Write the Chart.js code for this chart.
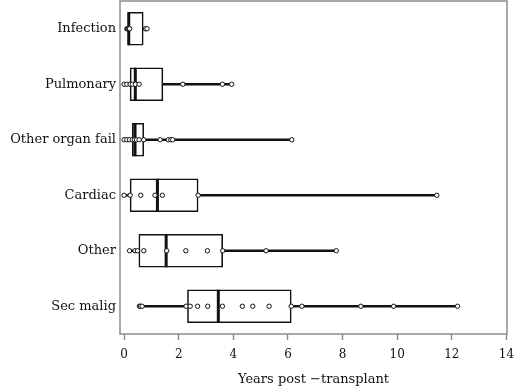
<!DOCTYPE html>
<html>
<head>
<meta charset="utf-8">
<script src="https://cdn.jsdelivr.net/npm/chart.js@4/dist/chart.umd.min.js"></script>
<style>
  html, body { margin: 0; padding: 0; background: #fff; }
  #wrap { width: 520px; height: 389px; }
</style>
</head>
<body>
<div id="wrap"><canvas id="myChart" width="520" height="389"></canvas></div>
<script>
// categories, top to bottom
const categories = ["Infection", "Pulmonary", "Other organ fail", "Cardiac", "Other", "Sec malig"];

// box summaries (years)
const q1 = [0.15, 0.22, 0.3, 0.22, 0.54, 2.32];
const medians = [0.17, 0.41, 0.4, 1.22, 1.54, 3.45];
const q3 = [0.7, 1.42, 0.72, 2.71, 3.61, 6.12];
const whiskerLow = [0.1, 0.0, 0.0, 0.0, 0.2, 0.56];
const whiskerHigh = [0.84, 3.94, 6.14, 11.45, 7.77, 12.21];

// individual observations
const infectionPts = [0.1, 0.13, 0.15, 0.18, 0.2, 0.78, 0.84];
const pulmonaryPts = [0.0, 0.1, 0.22, 0.3, 0.41, 0.55, 2.15, 3.6, 3.94];
const organFailPts = [0.0, 0.1, 0.2, 0.3, 0.38, 0.45, 0.55, 0.72, 1.32, 1.62, 1.71, 1.78, 6.14];
const cardiacPts = [0.0, 0.22, 0.61, 1.13, 1.4, 2.71, 11.45];
const otherPts = [0.2, 0.4, 0.49, 0.72, 1.56, 2.26, 3.05, 3.61, 5.2, 7.77];
const secMaligPts = [0.56, 0.6, 0.66, 2.27, 2.42, 2.69, 3.06, 3.6, 4.33, 4.71, 5.31, 6.12, 6.51, 8.67, 9.87, 12.21];

const xTicks = [0, 2, 4, 6, 8, 10, 12, 14];
const xTitle = "Years post −transplant";

const pointGroups = [infectionPts, pulmonaryPts, organFailPts, cardiacPts, otherPts, secMaligPts];

// flatten points into {x, y} for scatter
let obsPoints = [];
for (let i = 0; i < pointGroups.length; i++) {
  pointGroups[i].forEach((v) => obsPoints.push({ x: v, y: categories[i] }));
}

const frameColor = "#8c8c8c";
const serif = "'DejaVu Serif', serif";

// draws the box frame round the plot area
const framePlugin = {
  id: "frame",
  afterDraw(chart) {
    const { ctx, chartArea } = chart;
    ctx.save();
    ctx.strokeStyle = frameColor;
    ctx.lineWidth = 1.5;
    ctx.strokeRect(chartArea.left, chartArea.top, chartArea.right - chartArea.left, chartArea.bottom - chartArea.top);
    ctx.restore();
  },
};

const ctx = document.getElementById("myChart");

new Chart(ctx, {
  type: "bar",
  data: {
    labels: categories,
    datasets: [
      {
        // whiskers
        type: "bar",
        data: categories.map((c, i) => [whiskerLow[i], whiskerHigh[i]]),
        backgroundColor: "#111",
        borderWidth: 0,
        barThickness: 2,
        grouped: false,
        order: 3,
      },
      {
        // boxes
        type: "bar",
        data: categories.map((c, i) => [q1[i], q3[i]]),
        backgroundColor: "#fff",
        borderColor: "#111",
        borderWidth: 1.6,
        borderSkipped: false,
        barThickness: 33,
        grouped: false,
        order: 2,
      },
      {
        // medians
        type: "scatter",
        data: categories.map((c, i) => ({ x: medians[i], y: c })),
        pointStyle: "line",
        rotation: 90,
        radius: 16.5,
        borderColor: "#111",
        borderWidth: 3,
        order: 1,
      },
      {
        // observations
        type: "scatter",
        data: obsPoints,
        pointStyle: "circle",
        radius: 2.2,
        backgroundColor: "#fff",
        borderColor: "#111",
        borderWidth: 1,
        order: 0,
      },
    ],
  },
  options: {
    indexAxis: "y",
    responsive: false,
    animation: false,
    layout: { autoPadding: false, padding: { left: 0, right: 13, top: 1, bottom: 0 } },
    plugins: {
      legend: { display: false },
      tooltip: { enabled: false },
    },
    scales: {
      x: {
        type: "linear",
        min: -0.15,
        max: 14.02,
        afterBuildTicks: (scale) => {
          scale.ticks = xTicks.map((v) => ({ value: v }));
        },
        afterFit: (scale) => {
          scale.height = 55;
          scale.paddingLeft = 0;
          scale.paddingRight = 0;
        },
        border: { display: false },
        grid: { drawOnChartArea: false, drawTicks: true, tickLength: 6, tickColor: frameColor, tickWidth: 1.5 },
        ticks: { color: "#111", font: { family: serif, size: 12 }, padding: 8, maxRotation: 0 },
        title: { display: true, text: xTitle, color: "#111", font: { family: serif, size: 13 }, padding: { top: 2, bottom: 2 } },
      },
      y: {
        type: "category",
        offset: true,
        afterFit: (scale) => {
          scale.width = 120;
          scale.paddingTop = 0;
          scale.paddingBottom = 0;
        },
        border: { display: false },
        grid: { display: false, drawTicks: false },
        ticks: { color: "#111", font: { family: serif, size: 13 }, padding: 4 },
      },
    },
  },
  plugins: [framePlugin],
});
</script>
</body>
</html>
